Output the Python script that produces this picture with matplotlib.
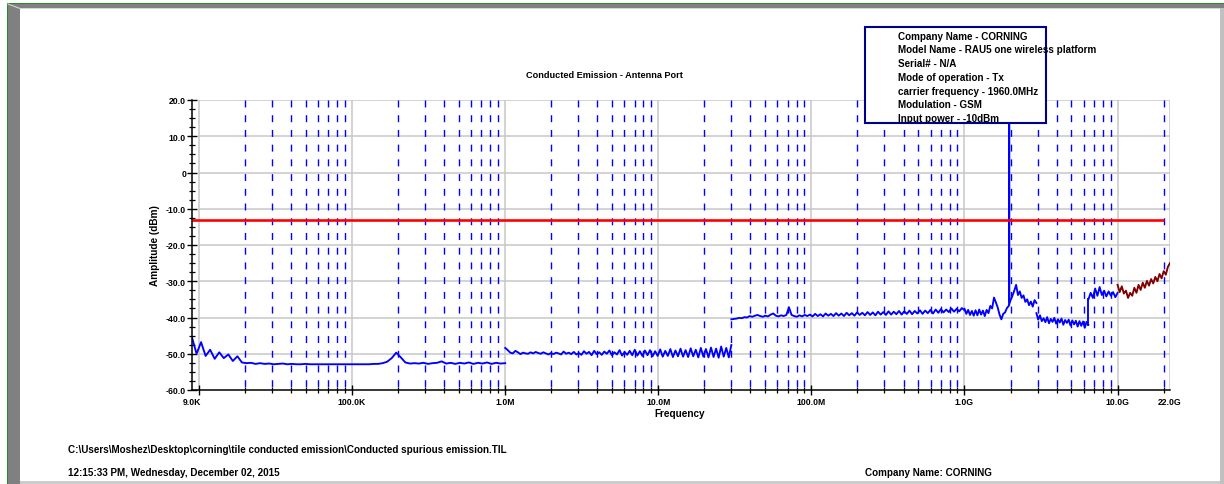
import numpy as np
import matplotlib
matplotlib.use("Agg")
import matplotlib.pyplot as plt
from matplotlib.patches import Rectangle
from matplotlib.lines import Line2D
from matplotlib.ticker import FixedLocator, NullFormatter

plt.rcParams['font.family'] = ['Liberation Sans', 'DejaVu Sans']
plt.rcParams['font.weight'] = 'bold'

# ---- data (dBm) ----
# each sweep segment: start / stop frequency (Hz) and amplitude readings across it
seg_a_span = [9e3, 1e6]
seg_a_vals = [-45.5, -50.0, -46.8, -50.6, -48.9, -51.4, -49.6, -51.2, -50.2, -52.0,
              -50.7, -52.4, -52.6, -52.5, -52.8, -52.6, -52.8, -52.7, -52.9, -52.8,
              -52.7, -52.9, -52.8, -52.9, -52.9, -52.8, -52.9, -52.9, -52.9, -52.9,
              -52.9, -52.9, -52.9, -52.9, -52.9, -52.9, -52.9, -52.9, -52.9, -52.9,
              -52.8, -52.8, -52.6, -52.2, -51.2, -49.7, -51.0, -52.4, -52.7, -52.6,
              -52.7, -52.5, -52.8, -52.6, -52.5, -52.1, -52.7, -52.5, -52.8, -52.5,
              -52.7, -52.4, -52.8, -52.5, -52.7, -52.4, -52.8, -52.5, -52.7, -52.6]

seg_b_span = [1e6, 30e6]
seg_b_vals = [-48.4, -49.0, -49.7, -49.9, -49.2, -49.6, -50.1, -49.7, -49.9, -50.0,
              -49.6, -49.9, -49.5, -49.8, -50.0, -49.6, -49.9, -50.2, -49.8, -50.1,
              -49.7, -49.9, -50.2, -49.4, -50.0, -49.7, -50.1, -49.5, -50.2, -49.8,
              -50.3, -49.3, -50.0, -49.5, -50.4, -49.2, -50.1, -49.6, -50.3, -49.4,
              -50.0, -49.1, -50.4, -49.6, -50.2, -49.0, -50.5, -49.5, -50.3, -49.2,
              -50.4, -48.9, -50.5, -49.3, -50.6, -49.1, -50.4, -49.0, -50.7, -49.3,
              -50.6, -48.8, -50.8, -49.2, -50.6, -48.7, -50.9, -49.1, -50.7, -48.6,
              -50.8, -49.0, -50.9, -48.5, -50.7, -48.9, -51.0, -48.4, -50.8, -48.7,
              -51.0, -48.3, -50.9, -48.6, -51.1, -48.0, -50.8, -48.4, -51.0, -47.6]

seg_c_span = [30e6, 1e9]
seg_c_vals = [-40.5, -40.4, -40.3, -40.1, -40.2, -39.9, -40.0, -39.6, -39.8, -39.5,
              -39.3, -39.6, -39.8, -39.5, -39.7, -39.2, -38.9, -39.5, -39.7, -39.4,
              -39.6, -39.3, -37.2, -39.3, -39.6, -39.8, -39.4, -39.7, -39.3, -39.6,
              -39.2, -39.7, -39.0, -39.6, -39.1, -39.7, -38.9, -39.5, -39.0, -39.6,
              -38.8, -39.5, -38.9, -39.6, -38.7, -39.4, -38.8, -39.5, -38.6, -39.3,
              -38.7, -39.4, -38.5, -39.3, -38.6, -39.4, -38.4, -39.2, -38.5, -39.3,
              -38.3, -39.2, -38.4, -39.1, -38.2, -39.2, -38.3, -39.0, -38.1, -39.1,
              -38.2, -38.9, -38.0, -39.0, -38.1, -38.8, -37.9, -38.9, -37.8, -38.7,
              -37.7, -38.6, -37.8, -38.5, -37.5, -38.4, -37.6, -38.3, -37.4, -38.0]

seg_d_span = [1e9, 2.95e9]
seg_d_vals = [-37.6, -39.0, -37.9, -39.3, -38.2, -39.5, -38.0, -39.4, -37.8, -39.2,
              -38.1, -39.6, -37.9, -38.8, -36.8, -37.5, -34.5, -35.8, -37.2, -39.2,
              -40.5, -39.0, -38.6, -37.4, -36.8, -35.2, -34.0, -32.6, -31.0, -33.8,
              -32.8, -34.6, -33.9, -35.7, -35.0, -36.6, -35.6, -37.0, -35.2, -36.0]

carrier_f = [1.955e9, 1.96e9, 1.965e9]
carrier_v = [-36.5, 16.0, -35.5]

seg_e_span = [2.95e9, 6.45e9]
seg_e_vals = [-38.8, -40.6, -39.4, -41.0, -40.2, -41.3, -39.9, -41.6, -40.4, -41.2,
              -40.1, -41.7, -40.5, -41.4, -40.3, -42.0, -40.7, -41.5, -40.6, -42.2,
              -40.8, -41.9, -40.9, -42.5, -41.0, -42.3, -41.1, -42.8, -41.2, -42.0]

seg_f_span = [6.45e9, 10e9]
seg_f_vals = [-35.0, -33.2, -34.6, -32.0, -34.0, -31.6, -33.8, -32.6, -34.2, -32.8,
              -34.0, -33.0, -34.4, -33.2]

seg_g_span = [10e9, 22e9]
seg_g_vals = [-31.0, -33.0, -31.4, -33.4, -32.6, -34.6, -33.2, -34.0, -31.8, -33.2,
              -31.0, -32.4, -30.4, -31.8, -29.9, -31.2, -29.4, -30.6, -28.8, -30.0,
              -28.0, -29.2, -27.2, -28.2, -26.0, -25.0]

limit_f = [9e3, 20e9]
limit_v = [-13.0, -13.0]

x_tick_vals = [9e3, 1e4, 1e5, 1e6, 1e7, 1e8, 1e9, 1e10, 22e9]
x_tick_labels = ["9.0K", "", "100.0K", "1.0M", "10.0M", "100.0M", "1.0G", "10.0G", "22.0G"]
y_tick_vals = [20, 10, 0, -10, -20, -30, -40, -50, -60]
y_tick_labels = ["20.0", "10.0", "0", "-10.0", "-20.0", "-30.0", "-40.0", "-50.0", "-60.0"]

info_lines = ["Company Name - CORNING",
              "Model Name - RAU5 one wireless platform",
              "Serial# - N/A",
              "Mode of operation - Tx",
              "carrier frequency - 1960.0MHz",
              "Modulation - GSM",
              "Input power - -10dBm"]

W, H = 1224, 485
fig = plt.figure(figsize=(W / 100, H / 100), dpi=100)
fig.patch.set_facecolor('white')


def fx(x):
    return x / W


def fy(y):
    return 1 - y / H


def fig_rect(x0, y0, x1, y1, color, z=0):
    fig.add_artist(Rectangle((fx(x0), fy(y1)), (x1 - x0) / W, (y1 - y0) / H,
                             transform=fig.transFigure, facecolor=color,
                             edgecolor='none', zorder=z))


# window frame
fig_rect(8, 5, W, 8.5, '#808080')
fig_rect(8, 8.5, W, 9.5, '#d4d4d4')
fig_rect(8, 5, 20, H, '#808080')
fig_rect(6.5, 3.5, W, 5, '#2a8a2a')
fig_rect(6.5, 3.5, 8, H, '#2a8a2a')
fig_rect(1220, 9, W, H, '#c0c0c0')
fig_rect(20, 481.5, 1220, H, '#cccccc')
fig.add_artist(Line2D([fx(8), fx(20)], [fy(5), fy(9.5)], transform=fig.transFigure,
                      color='#d4d4d4', lw=0.8))

ax = fig.add_axes([fx(192), fy(391), (1170 - 192) / W, (391 - 101) / H])
ax.set_xscale('log')
ax.set_xlim(9e3, 22e9)
ax.set_ylim(-60, 20)
ax.set_facecolor('none')

# grid / frame (from 10K to 22G)
grid_c = '#c8c8c8'
for yv in y_tick_vals[:-1]:
    ax.plot([1e4, 22e9], [yv, yv], color=grid_c, lw=1.1, zorder=1)
for xv in [1e4, 1e5, 1e6, 1e7, 1e8, 1e9, 1e10, 22e9]:
    ax.plot([xv, xv], [20, -60], color=grid_c, lw=1.1, zorder=1)

minor_x = [k * 10.0 ** n for n in range(4, 10) for k in range(2, 10)] + [2e10]
for xv in minor_x:
    ax.plot([xv, xv], [20, -60], color='#0000ff', lw=1.0, dashes=(5, 5.6), zorder=1.5)

# traces
blue = '#0000ff'
tw = 1.35
for span, vals in [(seg_a_span, seg_a_vals), (seg_b_span, seg_b_vals),
                   (seg_c_span, seg_c_vals), (seg_d_span, seg_d_vals),
                   (seg_e_span, seg_e_vals), (seg_f_span, seg_f_vals)]:
    ax.plot(np.geomspace(span[0], span[1], len(vals)), vals, color=blue, lw=tw, zorder=3)
# step between segments at 6.45G (E -> F)
ax.plot([seg_e_span[1], seg_f_span[0]], [seg_e_vals[-1], seg_f_vals[0]], color=blue, lw=tw, zorder=3)
ax.plot(carrier_f, carrier_v, color=blue, lw=1.3, zorder=3)
ax.plot(np.geomspace(seg_g_span[0], seg_g_span[1], len(seg_g_vals)), seg_g_vals,
        color='#800000', lw=tw, zorder=3)

ax.plot(limit_f, limit_v, color='#ff0000', lw=1.9, zorder=4, solid_capstyle='butt')

# axes / ticks
for s in ['top', 'right']:
    ax.spines[s].set_visible(False)
for s in ['left', 'bottom']:
    ax.spines[s].set_color('black')
    ax.spines[s].set_linewidth(1.1)
    ax.spines[s].set_zorder(5)

ax.xaxis.set_major_locator(FixedLocator(x_tick_vals))
ax.set_xticklabels(x_tick_labels)
ax.xaxis.set_minor_locator(FixedLocator(minor_x))
ax.xaxis.set_minor_formatter(NullFormatter())
ax.set_yticks(y_tick_vals)
ax.set_yticklabels(y_tick_labels)
ax.yaxis.set_minor_locator(FixedLocator(np.arange(-60, 20.1, 2.5)))

ax.tick_params(axis='x', which='major', direction='inout', length=6.5, width=1.0, pad=1.5,
               labelsize=6.2, color='black')
ax.tick_params(axis='x', which='minor', direction='inout', length=4.5, width=0.9, color='black')
ax.tick_params(axis='y', which='major', direction='inout', length=6.5, width=1.0, pad=1.0,
               labelsize=6.2, color='black')
ax.tick_params(axis='y', which='minor', direction='inout', length=4.0, width=0.9, color='black')
xt = ax.xaxis.get_major_ticks()
xt[0].tick1line.set_visible(False)
xt[-1].tick1line.set_visible(False)
for lab in ax.get_xticklabels() + ax.get_yticklabels():
    lab.set_fontweight('bold')

# titles and labels
fig.text(fx(604), fy(76), "Conducted Emission - Antenna Port", ha='center', va='center',
         fontsize=6.6, fontweight='bold')
fig.text(fx(680), fy(414), "Frequency", ha='center', va='center', fontsize=7.2, fontweight='bold')
fig.text(fx(155), fy(246), "Amplitude (dBm)", ha='center', va='center', rotation=90,
         fontsize=7.2, fontweight='bold')

# info box
fig.add_artist(Rectangle((fx(865), fy(124)), (1046 - 865) / W, (124 - 28) / H,
                         transform=fig.transFigure, facecolor='white', edgecolor='#00008b',
                         lw=1.5, zorder=10))
for i, line in enumerate(info_lines):
    fig.text(fx(898), fy(36.5 + i * 13.8), line, ha='left', va='center', fontsize=7.1,
             fontweight='bold', zorder=11)

# footer
fig.text(fx(68), fy(450), r"C:\Users\Moshez\Desktop\corning\tile conducted emission\Conducted spurious emission.TIL",
         ha='left', va='center', fontsize=7.1, fontweight='bold')
fig.text(fx(68), fy(473), "12:15:33 PM, Wednesday, December 02, 2015", ha='left', va='center',
         fontsize=7.1, fontweight='bold')
fig.text(fx(865), fy(473), "Company Name: CORNING", ha='left', va='center', fontsize=7.1,
         fontweight='bold')

fig.savefig('out.png', dpi=100)
